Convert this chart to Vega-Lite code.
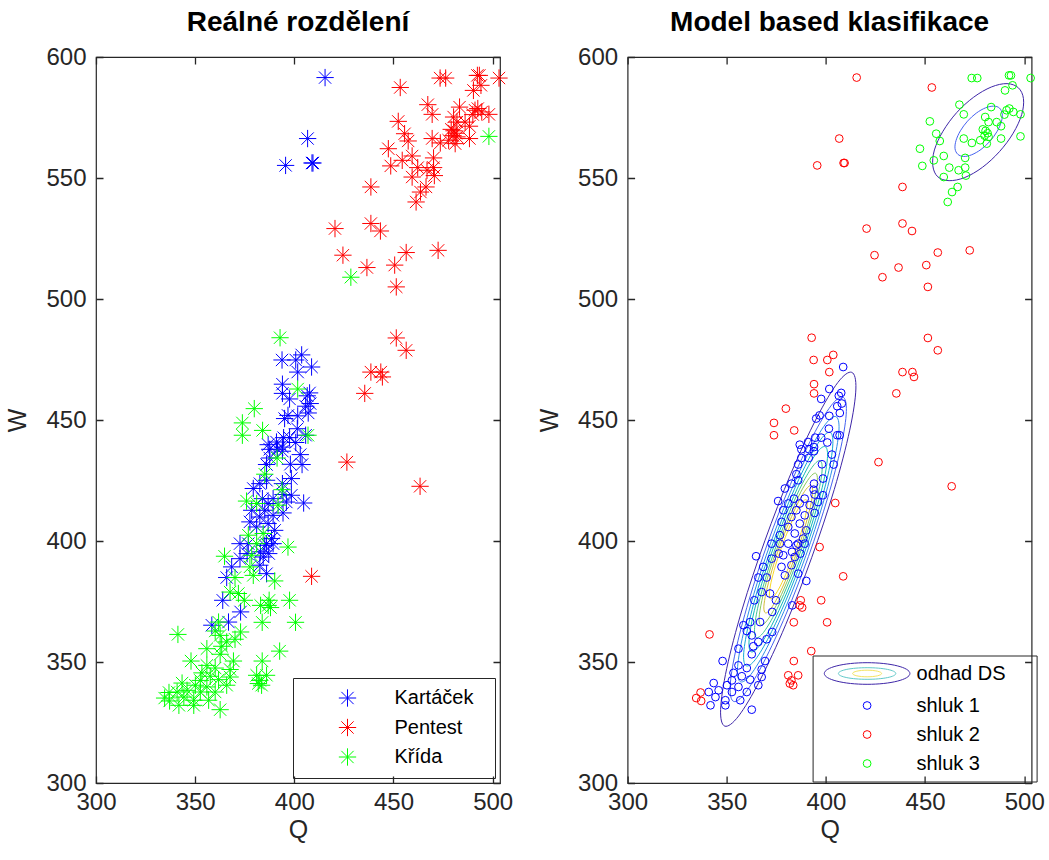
{
"$schema": "https://vega.github.io/schema/vega-lite/v6.json",
"background": "white",
"padding": {"left": 5, "top": 7, "right": 10, "bottom": 6},
"bounds": "flush",
"spacing": 127.6,
"config": {
  "font": "Liberation Sans",
  "view": {"stroke": "#262626", "strokeWidth": 1.2},
  "title": {"fontSize": 28, "fontWeight": "bold", "font": "Liberation Sans", "color": "#000000", "anchor": "middle", "baseline": "alphabetic", "offset": 8.5},
  "axis": {"domain": false, "offset": 0, "ticks": false, "tickSize": 0, "grid": true, "gridColor": "#262626", "gridWidth": 1.3, "gridOpacity": 1, "labelFontSize": 24, "labelColor": "#262626", "labelFont": "Liberation Sans", "titleFont": "Liberation Sans", "titleFontSize": 25, "titleFontWeight": "normal", "titleColor": "#262626", "labelFlush": false, "labelOverlap": false},
  "axisX": {"labelPadding": 7, "titlePadding": 3, "gridDash": [7, 712, 7, 100]},
  "axisY": {"labelPadding": 10, "titlePadding": 15, "gridDash": [7, 390, 7, 100]}
},
"datasets": {
"dummy": [{"Q": 250, "W": 250, "lg": "odhad DS", "lh": "odhad DS2"}],
"pts": [
{"Q":415.5,"W":591.5,"t":"Kartáček","c":"shluk 2"},
{"Q":406.7,"W":566.3,"t":"Kartáček","c":"shluk 2"},
{"Q":395.6,"W":555.2,"t":"Kartáček","c":"shluk 2"},
{"Q":408.9,"W":556.2,"t":"Kartáček","c":"shluk 2"},
{"Q":409.4,"W":556.2,"t":"Kartáček","c":"shluk 2"},
{"Q":403.7,"W":476.9,"t":"Kartáček","c":"shluk 2"},
{"Q":400.7,"W":474.8,"t":"Kartáček","c":"shluk 2"},
{"Q":393.8,"W":474.8,"t":"Kartáček","c":"shluk 2"},
{"Q":401.7,"W":469.8,"t":"Kartáček","c":"shluk 2"},
{"Q":394.0,"W":464.8,"t":"Kartáček","c":"shluk 2"},
{"Q":394.0,"W":461.0,"t":"Kartáček","c":"shluk 2"},
{"Q":404.7,"W":415.7,"t":"Kartáček","c":"shluk 2"},
{"Q":408.7,"W":471.9,"t":"Kartáček","c":"shluk 1"},
{"Q":407.7,"W":461.2,"t":"Kartáček","c":"shluk 1"},
{"Q":406.5,"W":460.0,"t":"Kartáček","c":"shluk 1"},
{"Q":397.6,"W":458.7,"t":"Kartáček","c":"shluk 1"},
{"Q":408.0,"W":456.8,"t":"Kartáček","c":"shluk 1"},
{"Q":405.7,"W":455.7,"t":"Kartáček","c":"shluk 1"},
{"Q":407.0,"W":452.9,"t":"Kartáček","c":"shluk 1"},
{"Q":396.8,"W":451.9,"t":"Kartáček","c":"shluk 1"},
{"Q":395.1,"W":450.6,"t":"Kartáček","c":"shluk 1"},
{"Q":401.7,"W":451.7,"t":"Kartáček","c":"shluk 1"},
{"Q":401.5,"W":446.4,"t":"Kartáček","c":"shluk 1"},
{"Q":405.7,"W":443.7,"t":"Kartáček","c":"shluk 1"},
{"Q":394.6,"W":442.7,"t":"Kartáček","c":"shluk 1"},
{"Q":397.6,"W":442.7,"t":"Kartáček","c":"shluk 1"},
{"Q":400.7,"W":440.7,"t":"Kartáček","c":"shluk 1"},
{"Q":391.0,"W":440.9,"t":"Kartáček","c":"shluk 1"},
{"Q":386.8,"W":439.8,"t":"Kartáček","c":"shluk 1"},
{"Q":394.0,"W":438.8,"t":"Kartáček","c":"shluk 1"},
{"Q":391.5,"W":437.9,"t":"Kartáček","c":"shluk 1"},
{"Q":387.6,"W":437.9,"t":"Kartáček","c":"shluk 1"},
{"Q":394.0,"W":437.1,"t":"Kartáček","c":"shluk 1"},
{"Q":403.0,"W":435.7,"t":"Kartáček","c":"shluk 1"},
{"Q":387.6,"W":434.3,"t":"Kartáček","c":"shluk 1"},
{"Q":403.9,"W":431.6,"t":"Kartáček","c":"shluk 1"},
{"Q":386.0,"W":431.6,"t":"Kartáček","c":"shluk 1"},
{"Q":398.0,"W":431.7,"t":"Kartáček","c":"shluk 1"},
{"Q":398.5,"W":425.8,"t":"Kartáček","c":"shluk 1"},
{"Q":386.0,"W":425.1,"t":"Kartáček","c":"shluk 1"},
{"Q":382.6,"W":423.7,"t":"Kartáček","c":"shluk 1"},
{"Q":394.0,"W":423.7,"t":"Kartáček","c":"shluk 1"},
{"Q":379.3,"W":421.7,"t":"Kartáček","c":"shluk 1"},
{"Q":398.5,"W":418.9,"t":"Kartáček","c":"shluk 1"},
{"Q":394.3,"W":419.2,"t":"Kartáček","c":"shluk 1"},
{"Q":383.9,"W":417.5,"t":"Kartáček","c":"shluk 1"},
{"Q":389.3,"W":417.5,"t":"Kartáček","c":"shluk 1"},
{"Q":396.0,"W":416.1,"t":"Kartáček","c":"shluk 1"},
{"Q":386.8,"W":415.5,"t":"Kartáček","c":"shluk 1"},
{"Q":385.1,"W":412.7,"t":"Kartáček","c":"shluk 1"},
{"Q":378.5,"W":412.7,"t":"Kartáček","c":"shluk 1"},
{"Q":382.6,"W":409.9,"t":"Kartáček","c":"shluk 1"},
{"Q":389.3,"W":410.6,"t":"Kartáček","c":"shluk 1"},
{"Q":394.3,"W":411.6,"t":"Kartáček","c":"shluk 1"},
{"Q":377.6,"W":407.9,"t":"Kartáček","c":"shluk 1"},
{"Q":386.8,"W":407.2,"t":"Kartáček","c":"shluk 1"},
{"Q":381.0,"W":405.8,"t":"Kartáček","c":"shluk 1"},
{"Q":390.1,"W":404.4,"t":"Kartáček","c":"shluk 1"},
{"Q":388.5,"W":401.0,"t":"Kartáček","c":"shluk 1"},
{"Q":372.6,"W":398.9,"t":"Kartáček","c":"shluk 1"},
{"Q":385.1,"W":398.2,"t":"Kartáček","c":"shluk 1"},
{"Q":376.8,"W":398.9,"t":"Kartáček","c":"shluk 1"},
{"Q":386.0,"W":398.9,"t":"Kartáček","c":"shluk 1"},
{"Q":389.3,"W":398.9,"t":"Kartáček","c":"shluk 1"},
{"Q":372.6,"W":392.7,"t":"Kartáček","c":"shluk 1"},
{"Q":384.3,"W":393.4,"t":"Kartáček","c":"shluk 1"},
{"Q":368.4,"W":389.3,"t":"Kartáček","c":"shluk 1"},
{"Q":382.6,"W":390.0,"t":"Kartáček","c":"shluk 1"},
{"Q":365.9,"W":384.9,"t":"Kartáček","c":"shluk 1"},
{"Q":386.0,"W":386.5,"t":"Kartáček","c":"shluk 1"},
{"Q":363.9,"W":375.5,"t":"Kartáček","c":"shluk 1"},
{"Q":372.9,"W":370.7,"t":"Kartáček","c":"shluk 1"},
{"Q":358.4,"W":365.2,"t":"Kartáček","c":"shluk 1"},
{"Q":366.8,"W":366.5,"t":"Kartáček","c":"shluk 1"},
{"Q":376.2,"W":394.8,"t":"Kartáček","c":"shluk 1"},
{"Q":382.9,"W":395.5,"t":"Kartáček","c":"shluk 1"},
{"Q":387.1,"W":394.8,"t":"Kartáček","c":"shluk 1"},
{"Q":473.5,"W":591.3,"t":"Pentest","c":"shluk 3"},
{"Q":476.3,"W":591.3,"t":"Pentest","c":"shluk 3"},
{"Q":492.3,"W":592.4,"t":"Pentest","c":"shluk 3"},
{"Q":493.3,"W":592.4,"t":"Pentest","c":"shluk 3"},
{"Q":503.2,"W":591.3,"t":"Pentest","c":"shluk 3"},
{"Q":494.1,"W":588.3,"t":"Pentest","c":"shluk 3"},
{"Q":490.3,"W":586.2,"t":"Pentest","c":"shluk 3"},
{"Q":467.3,"W":580.3,"t":"Pentest","c":"shluk 3"},
{"Q":483.3,"W":579.3,"t":"Pentest","c":"shluk 3"},
{"Q":469.5,"W":576.3,"t":"Pentest","c":"shluk 3"},
{"Q":491.1,"W":578.0,"t":"Pentest","c":"shluk 3"},
{"Q":492.5,"W":578.7,"t":"Pentest","c":"shluk 3"},
{"Q":494.5,"W":577.3,"t":"Pentest","c":"shluk 3"},
{"Q":498.1,"W":576.3,"t":"Pentest","c":"shluk 3"},
{"Q":490.0,"W":576.2,"t":"Pentest","c":"shluk 3"},
{"Q":480.3,"W":575.2,"t":"Pentest","c":"shluk 3"},
{"Q":486.1,"W":573.1,"t":"Pentest","c":"shluk 3"},
{"Q":482.0,"W":573.1,"t":"Pentest","c":"shluk 3"},
{"Q":452.4,"W":573.4,"t":"Pentest","c":"shluk 3"},
{"Q":488.3,"W":571.4,"t":"Pentest","c":"shluk 3"},
{"Q":479.1,"W":570.1,"t":"Pentest","c":"shluk 3"},
{"Q":480.5,"W":569.5,"t":"Pentest","c":"shluk 3"},
{"Q":481.5,"W":568.5,"t":"Pentest","c":"shluk 3"},
{"Q":480.0,"W":567.5,"t":"Pentest","c":"shluk 3"},
{"Q":482.0,"W":567.0,"t":"Pentest","c":"shluk 3"},
{"Q":477.8,"W":565.6,"t":"Pentest","c":"shluk 3"},
{"Q":481.1,"W":564.2,"t":"Pentest","c":"shluk 3"},
{"Q":488.3,"W":566.3,"t":"Pentest","c":"shluk 3"},
{"Q":469.5,"W":566.3,"t":"Pentest","c":"shluk 3"},
{"Q":473.6,"W":564.5,"t":"Pentest","c":"shluk 3"},
{"Q":455.6,"W":568.3,"t":"Pentest","c":"shluk 3"},
{"Q":457.4,"W":565.3,"t":"Pentest","c":"shluk 3"},
{"Q":447.4,"W":562.1,"t":"Pentest","c":"shluk 3"},
{"Q":454.4,"W":557.3,"t":"Pentest","c":"shluk 3"},
{"Q":459.4,"W":559.1,"t":"Pentest","c":"shluk 3"},
{"Q":470.2,"W":558.3,"t":"Pentest","c":"shluk 3"},
{"Q":448.6,"W":555.0,"t":"Pentest","c":"shluk 3"},
{"Q":462.2,"W":554.3,"t":"Pentest","c":"shluk 3"},
{"Q":466.9,"W":553.2,"t":"Pentest","c":"shluk 3"},
{"Q":470.2,"W":554.3,"t":"Pentest","c":"shluk 3"},
{"Q":470.6,"W":551.0,"t":"Pentest","c":"shluk 3"},
{"Q":459.4,"W":550.4,"t":"Pentest","c":"shluk 3"},
{"Q":466.4,"W":546.3,"t":"Pentest","c":"shluk 3"},
{"Q":463.6,"W":544.2,"t":"Pentest","c":"shluk 3"},
{"Q":461.4,"W":540.1,"t":"Pentest","c":"shluk 3"},
{"Q":453.4,"W":587.4,"t":"Pentest","c":"shluk 2"},
{"Q":438.6,"W":546.3,"t":"Pentest","c":"shluk 2"},
{"Q":420.5,"W":529.1,"t":"Pentest","c":"shluk 2"},
{"Q":438.6,"W":531.2,"t":"Pentest","c":"shluk 2"},
{"Q":443.4,"W":528.1,"t":"Pentest","c":"shluk 2"},
{"Q":424.5,"W":518.1,"t":"Pentest","c":"shluk 2"},
{"Q":456.4,"W":519.2,"t":"Pentest","c":"shluk 2"},
{"Q":472.5,"W":520.1,"t":"Pentest","c":"shluk 2"},
{"Q":436.6,"W":513.0,"t":"Pentest","c":"shluk 2"},
{"Q":450.6,"W":514.0,"t":"Pentest","c":"shluk 2"},
{"Q":451.4,"W":505.0,"t":"Pentest","c":"shluk 2"},
{"Q":451.4,"W":483.9,"t":"Pentest","c":"shluk 2"},
{"Q":456.4,"W":478.8,"t":"Pentest","c":"shluk 2"},
{"Q":438.6,"W":469.8,"t":"Pentest","c":"shluk 2"},
{"Q":443.6,"W":469.8,"t":"Pentest","c":"shluk 2"},
{"Q":444.4,"W":467.8,"t":"Pentest","c":"shluk 2"},
{"Q":435.5,"W":461.0,"t":"Pentest","c":"shluk 2"},
{"Q":426.5,"W":432.6,"t":"Pentest","c":"shluk 2"},
{"Q":463.4,"W":422.6,"t":"Pentest","c":"shluk 2"},
{"Q":408.7,"W":385.4,"t":"Pentest","c":"shluk 2"},
{"Q":498.1,"W":567.2,"t":"Křída","c":"shluk 3"},
{"Q":428.5,"W":509.0,"t":"Křída","c":"shluk 2"},
{"Q":392.8,"W":484.0,"t":"Křída","c":"shluk 2"},
{"Q":379.8,"W":454.7,"t":"Křída","c":"shluk 2"},
{"Q":373.8,"W":448.8,"t":"Křída","c":"shluk 2"},
{"Q":384.0,"W":445.7,"t":"Křída","c":"shluk 2"},
{"Q":373.8,"W":443.7,"t":"Křída","c":"shluk 2"},
{"Q":396.8,"W":397.5,"t":"Křída","c":"shluk 2"},
{"Q":397.6,"W":375.5,"t":"Křída","c":"shluk 2"},
{"Q":387.3,"W":375.5,"t":"Křída","c":"shluk 2"},
{"Q":386.8,"W":373.4,"t":"Křída","c":"shluk 2"},
{"Q":388.0,"W":372.5,"t":"Křída","c":"shluk 2"},
{"Q":400.6,"W":366.4,"t":"Křída","c":"shluk 2"},
{"Q":383.8,"W":366.4,"t":"Křída","c":"shluk 2"},
{"Q":392.6,"W":354.5,"t":"Křída","c":"shluk 2"},
{"Q":383.8,"W":350.4,"t":"Křída","c":"shluk 2"},
{"Q":381.0,"W":344.5,"t":"Křída","c":"shluk 2"},
{"Q":386.0,"W":344.5,"t":"Křída","c":"shluk 2"},
{"Q":382.6,"W":342.4,"t":"Křída","c":"shluk 2"},
{"Q":383.5,"W":340.4,"t":"Křída","c":"shluk 2"},
{"Q":381.8,"W":341.1,"t":"Křída","c":"shluk 2"},
{"Q":341.3,"W":361.4,"t":"Křída","c":"shluk 2"},
{"Q":334.6,"W":335.1,"t":"Křída","c":"shluk 2"},
{"Q":336.8,"W":337.4,"t":"Křída","c":"shluk 2"},
{"Q":337.1,"W":333.9,"t":"Křída","c":"shluk 2"},
{"Q":401.7,"W":462.8,"t":"Křída","c":"shluk 1"},
{"Q":406.9,"W":443.7,"t":"Křída","c":"shluk 1"},
{"Q":391.3,"W":434.3,"t":"Křída","c":"shluk 1"},
{"Q":385.1,"W":427.6,"t":"Křída","c":"shluk 1"},
{"Q":393.8,"W":421.2,"t":"Křída","c":"shluk 1"},
{"Q":375.9,"W":416.5,"t":"Křída","c":"shluk 1"},
{"Q":381.0,"W":415.5,"t":"Křída","c":"shluk 1"},
{"Q":391.8,"W":414.8,"t":"Křída","c":"shluk 1"},
{"Q":384.3,"W":403.1,"t":"Křída","c":"shluk 1"},
{"Q":376.8,"W":402.4,"t":"Křída","c":"shluk 1"},
{"Q":381.0,"W":398.9,"t":"Křída","c":"shluk 1"},
{"Q":364.8,"W":393.7,"t":"Křída","c":"shluk 1"},
{"Q":378.5,"W":394.1,"t":"Křída","c":"shluk 1"},
{"Q":377.6,"W":389.3,"t":"Křída","c":"shluk 1"},
{"Q":370.1,"W":384.9,"t":"Křída","c":"shluk 1"},
{"Q":379.3,"W":385.8,"t":"Křída","c":"shluk 1"},
{"Q":390.1,"W":383.5,"t":"Křída","c":"shluk 1"},
{"Q":367.6,"W":378.9,"t":"Křída","c":"shluk 1"},
{"Q":371.8,"W":378.3,"t":"Křída","c":"shluk 1"},
{"Q":374.8,"W":375.5,"t":"Křída","c":"shluk 1"},
{"Q":383.0,"W":373.4,"t":"Křída","c":"shluk 1"},
{"Q":361.8,"W":366.5,"t":"Křída","c":"shluk 1"},
{"Q":360.1,"W":362.8,"t":"Křída","c":"shluk 1"},
{"Q":362.6,"W":361.0,"t":"Křída","c":"shluk 1"},
{"Q":372.9,"W":362.4,"t":"Křída","c":"shluk 1"},
{"Q":370.1,"W":359.4,"t":"Křída","c":"shluk 1"},
{"Q":365.9,"W":358.3,"t":"Křída","c":"shluk 1"},
{"Q":363.4,"W":356.5,"t":"Křída","c":"shluk 1"},
{"Q":355.9,"W":355.5,"t":"Křída","c":"shluk 1"},
{"Q":362.6,"W":353.2,"t":"Křída","c":"shluk 1"},
{"Q":369.3,"W":350.4,"t":"Křída","c":"shluk 1"},
{"Q":347.9,"W":350.4,"t":"Křída","c":"shluk 1"},
{"Q":355.9,"W":348.6,"t":"Křída","c":"shluk 1"},
{"Q":367.6,"W":346.9,"t":"Křída","c":"shluk 1"},
{"Q":360.1,"W":347.5,"t":"Křída","c":"shluk 1"},
{"Q":353.4,"W":345.5,"t":"Křída","c":"shluk 1"},
{"Q":367.6,"W":343.8,"t":"Křída","c":"shluk 1"},
{"Q":357.6,"W":344.1,"t":"Křída","c":"shluk 1"},
{"Q":352.6,"W":342.4,"t":"Křída","c":"shluk 1"},
{"Q":361.8,"W":342.7,"t":"Křída","c":"shluk 1"},
{"Q":343.4,"W":341.3,"t":"Křída","c":"shluk 1"},
{"Q":365.9,"W":340.4,"t":"Křída","c":"shluk 1"},
{"Q":350.1,"W":340.4,"t":"Křída","c":"shluk 1"},
{"Q":355.9,"W":339.7,"t":"Křída","c":"shluk 1"},
{"Q":345.9,"W":338.3,"t":"Křída","c":"shluk 1"},
{"Q":340.9,"W":337.6,"t":"Křída","c":"shluk 1"},
{"Q":352.6,"W":337.6,"t":"Křída","c":"shluk 1"},
{"Q":360.1,"W":337.6,"t":"Křída","c":"shluk 1"},
{"Q":344.3,"W":335.5,"t":"Křída","c":"shluk 1"},
{"Q":349.3,"W":334.2,"t":"Křída","c":"shluk 1"},
{"Q":356.8,"W":334.2,"t":"Křída","c":"shluk 1"},
{"Q":341.8,"W":332.1,"t":"Křída","c":"shluk 1"},
{"Q":349.3,"W":332.1,"t":"Křída","c":"shluk 1"},
{"Q":362.6,"W":330.3,"t":"Křída","c":"shluk 1"}
],
"cont": [
{"g":"a1","l":"L1","i":0,"Q":413.0,"W":469.7},{"g":"a1","l":"L1","i":1,"Q":415.1,"W":462.8},{"g":"a1","l":"L1","i":2,"Q":412.0,"W":445.8},{"g":"a1","l":"L1","i":3,"Q":404.2,"W":421.3},{"g":"a1","l":"L1","i":4,"Q":392.8,"W":393.1},{"g":"a1","l":"L1","i":5,"Q":379.7,"W":365.4},{"g":"a1","l":"L1","i":6,"Q":366.7,"W":342.4},{"g":"a1","l":"L1","i":7,"Q":356.0,"W":327.7},{"g":"a1","l":"L1","i":8,"Q":349.0,"W":323.5},{"g":"a1","l":"L1","i":9,"Q":346.9,"W":330.4},{"g":"a1","l":"L1","i":10,"Q":350.0,"W":347.4},{"g":"a1","l":"L1","i":11,"Q":357.8,"W":371.9},{"g":"a1","l":"L1","i":12,"Q":369.2,"W":400.1},{"g":"a1","l":"L1","i":13,"Q":382.3,"W":427.8},{"g":"a1","l":"L1","i":14,"Q":395.3,"W":450.8},{"g":"a1","l":"L1","i":15,"Q":406.0,"W":465.5},
{"g":"a2","l":"L2","i":0,"Q":408.5,"W":459.5},{"g":"a2","l":"L2","i":1,"Q":410.3,"W":453.5},{"g":"a2","l":"L2","i":2,"Q":407.6,"W":438.9},{"g":"a2","l":"L2","i":3,"Q":400.9,"W":417.9},{"g":"a2","l":"L2","i":4,"Q":391.2,"W":393.6},{"g":"a2","l":"L2","i":5,"Q":379.9,"W":369.8},{"g":"a2","l":"L2","i":6,"Q":368.7,"W":350.0},{"g":"a2","l":"L2","i":7,"Q":359.5,"W":337.4},{"g":"a2","l":"L2","i":8,"Q":353.5,"W":333.7},{"g":"a2","l":"L2","i":9,"Q":351.7,"W":339.7},{"g":"a2","l":"L2","i":10,"Q":354.4,"W":354.3},{"g":"a2","l":"L2","i":11,"Q":361.1,"W":375.3},{"g":"a2","l":"L2","i":12,"Q":370.8,"W":399.6},{"g":"a2","l":"L2","i":13,"Q":382.1,"W":423.4},{"g":"a2","l":"L2","i":14,"Q":393.3,"W":443.2},{"g":"a2","l":"L2","i":15,"Q":402.5,"W":455.8},
{"g":"a3","l":"L3","i":0,"Q":405.0,"W":451.4},{"g":"a3","l":"L3","i":1,"Q":406.6,"W":446.3},{"g":"a3","l":"L3","i":2,"Q":404.2,"W":433.5},{"g":"a3","l":"L3","i":3,"Q":398.4,"W":415.2},{"g":"a3","l":"L3","i":4,"Q":389.9,"W":394.0},{"g":"a3","l":"L3","i":5,"Q":380.0,"W":373.2},{"g":"a3","l":"L3","i":6,"Q":370.3,"W":356.0},{"g":"a3","l":"L3","i":7,"Q":362.2,"W":344.9},{"g":"a3","l":"L3","i":8,"Q":357.0,"W":341.8},{"g":"a3","l":"L3","i":9,"Q":355.4,"W":347.0},{"g":"a3","l":"L3","i":10,"Q":357.8,"W":359.7},{"g":"a3","l":"L3","i":11,"Q":363.6,"W":378.0},{"g":"a3","l":"L3","i":12,"Q":372.1,"W":399.2},{"g":"a3","l":"L3","i":13,"Q":382.0,"W":420.0},{"g":"a3","l":"L3","i":14,"Q":391.7,"W":437.2},{"g":"a3","l":"L3","i":15,"Q":399.8,"W":448.3},
{"g":"a4","l":"L4","i":0,"Q":402.1,"W":444.9},{"g":"a4","l":"L4","i":1,"Q":403.5,"W":440.3},{"g":"a4","l":"L4","i":2,"Q":401.5,"W":429.1},{"g":"a4","l":"L4","i":3,"Q":396.3,"W":412.9},{"g":"a4","l":"L4","i":4,"Q":388.8,"W":394.3},{"g":"a4","l":"L4","i":5,"Q":380.1,"W":376.0},{"g":"a4","l":"L4","i":6,"Q":371.6,"W":360.9},{"g":"a4","l":"L4","i":7,"Q":364.5,"W":351.1},{"g":"a4","l":"L4","i":8,"Q":359.9,"W":348.4},{"g":"a4","l":"L4","i":9,"Q":358.5,"W":352.9},{"g":"a4","l":"L4","i":10,"Q":360.6,"W":364.1},{"g":"a4","l":"L4","i":11,"Q":365.7,"W":380.3},{"g":"a4","l":"L4","i":12,"Q":373.2,"W":398.9},{"g":"a4","l":"L4","i":13,"Q":381.9,"W":417.2},{"g":"a4","l":"L4","i":14,"Q":390.4,"W":432.4},{"g":"a4","l":"L4","i":15,"Q":397.5,"W":442.1},
{"g":"a5","l":"L5","i":0,"Q":399.6,"W":439.0},{"g":"a5","l":"L5","i":1,"Q":400.8,"W":435.0},{"g":"a5","l":"L5","i":2,"Q":399.0,"W":425.2},{"g":"a5","l":"L5","i":3,"Q":394.4,"W":411.0},{"g":"a5","l":"L5","i":4,"Q":387.9,"W":394.6},{"g":"a5","l":"L5","i":5,"Q":380.2,"W":378.5},{"g":"a5","l":"L5","i":6,"Q":372.7,"W":365.2},{"g":"a5","l":"L5","i":7,"Q":366.5,"W":356.7},{"g":"a5","l":"L5","i":8,"Q":362.4,"W":354.2},{"g":"a5","l":"L5","i":9,"Q":361.2,"W":358.2},{"g":"a5","l":"L5","i":10,"Q":363.0,"W":368.1},{"g":"a5","l":"L5","i":11,"Q":367.6,"W":382.3},{"g":"a5","l":"L5","i":12,"Q":374.1,"W":398.6},{"g":"a5","l":"L5","i":13,"Q":381.8,"W":414.7},{"g":"a5","l":"L5","i":14,"Q":389.3,"W":428.0},{"g":"a5","l":"L5","i":15,"Q":395.5,"W":436.6},
{"g":"a6","l":"L6","i":0,"Q":397.0,"W":433.2},{"g":"a6","l":"L6","i":1,"Q":398.1,"W":429.7},{"g":"a6","l":"L6","i":2,"Q":396.5,"W":421.2},{"g":"a6","l":"L6","i":3,"Q":392.6,"W":409.0},{"g":"a6","l":"L6","i":4,"Q":386.9,"W":394.9},{"g":"a6","l":"L6","i":5,"Q":380.3,"W":381.0},{"g":"a6","l":"L6","i":6,"Q":373.9,"W":369.5},{"g":"a6","l":"L6","i":7,"Q":368.5,"W":362.2},{"g":"a6","l":"L6","i":8,"Q":365.0,"W":360.1},{"g":"a6","l":"L6","i":9,"Q":364.0,"W":363.5},{"g":"a6","l":"L6","i":10,"Q":365.5,"W":372.0},{"g":"a6","l":"L6","i":11,"Q":369.4,"W":384.2},{"g":"a6","l":"L6","i":12,"Q":375.1,"W":398.4},{"g":"a6","l":"L6","i":13,"Q":381.7,"W":412.2},{"g":"a6","l":"L6","i":14,"Q":388.1,"W":423.7},{"g":"a6","l":"L6","i":15,"Q":393.5,"W":431.0},
{"g":"a7","l":"L7","i":0,"Q":394.8,"W":428.0},{"g":"a7","l":"L7","i":1,"Q":395.7,"W":425.1},{"g":"a7","l":"L7","i":2,"Q":394.3,"W":417.8},{"g":"a7","l":"L7","i":3,"Q":391.0,"W":407.2},{"g":"a7","l":"L7","i":4,"Q":386.1,"W":395.1},{"g":"a7","l":"L7","i":5,"Q":380.4,"W":383.2},{"g":"a7","l":"L7","i":6,"Q":374.9,"W":373.3},{"g":"a7","l":"L7","i":7,"Q":370.2,"W":367.0},{"g":"a7","l":"L7","i":8,"Q":367.2,"W":365.2},{"g":"a7","l":"L7","i":9,"Q":366.3,"W":368.1},{"g":"a7","l":"L7","i":10,"Q":367.7,"W":375.4},{"g":"a7","l":"L7","i":11,"Q":371.0,"W":386.0},{"g":"a7","l":"L7","i":12,"Q":375.9,"W":398.1},{"g":"a7","l":"L7","i":13,"Q":381.6,"W":410.0},{"g":"a7","l":"L7","i":14,"Q":387.1,"W":419.9},{"g":"a7","l":"L7","i":15,"Q":391.8,"W":426.2},
{"g":"a8","l":"L8","i":0,"Q":392.5,"W":422.9},{"g":"a8","l":"L8","i":1,"Q":393.3,"W":420.4},{"g":"a8","l":"L8","i":2,"Q":392.2,"W":414.3},{"g":"a8","l":"L8","i":3,"Q":389.3,"W":405.5},{"g":"a8","l":"L8","i":4,"Q":385.3,"W":395.3},{"g":"a8","l":"L8","i":5,"Q":380.5,"W":385.4},{"g":"a8","l":"L8","i":6,"Q":375.9,"W":377.1},{"g":"a8","l":"L8","i":7,"Q":372.0,"W":371.8},{"g":"a8","l":"L8","i":8,"Q":369.5,"W":370.3},{"g":"a8","l":"L8","i":9,"Q":368.7,"W":372.8},{"g":"a8","l":"L8","i":10,"Q":369.9,"W":378.9},{"g":"a8","l":"L8","i":11,"Q":372.7,"W":387.7},{"g":"a8","l":"L8","i":12,"Q":376.7,"W":397.9},{"g":"a8","l":"L8","i":13,"Q":381.5,"W":407.8},{"g":"a8","l":"L8","i":14,"Q":386.1,"W":416.1},{"g":"a8","l":"L8","i":15,"Q":390.0,"W":421.4},
{"g":"a9","l":"L9","i":0,"Q":390.0,"W":417.1},{"g":"a9","l":"L9","i":1,"Q":390.6,"W":415.1},{"g":"a9","l":"L9","i":2,"Q":389.7,"W":410.4},{"g":"a9","l":"L9","i":3,"Q":387.5,"W":403.5},{"g":"a9","l":"L9","i":4,"Q":384.3,"W":395.6},{"g":"a9","l":"L9","i":5,"Q":380.6,"W":387.9},{"g":"a9","l":"L9","i":6,"Q":377.0,"W":381.4},{"g":"a9","l":"L9","i":7,"Q":374.0,"W":377.3},{"g":"a9","l":"L9","i":8,"Q":372.0,"W":376.1},{"g":"a9","l":"L9","i":9,"Q":371.5,"W":378.1},{"g":"a9","l":"L9","i":10,"Q":372.3,"W":382.8},{"g":"a9","l":"L9","i":11,"Q":374.5,"W":389.7},{"g":"a9","l":"L9","i":12,"Q":377.7,"W":397.6},{"g":"a9","l":"L9","i":13,"Q":381.4,"W":405.3},{"g":"a9","l":"L9","i":14,"Q":385.0,"W":411.8},{"g":"a9","l":"L9","i":15,"Q":388.0,"W":415.9},
{"g":"b1","l":"L1","i":0,"Q":497.0,"W":587.3},{"g":"b1","l":"L1","i":1,"Q":499.6,"W":582.8},{"g":"b1","l":"L1","i":2,"Q":498.7,"W":576.2},{"g":"b1","l":"L1","i":3,"Q":494.4,"W":568.5},{"g":"b1","l":"L1","i":4,"Q":487.5,"W":560.9},{"g":"b1","l":"L1","i":5,"Q":478.9,"W":554.4},{"g":"b1","l":"L1","i":6,"Q":470.0,"W":550.2},{"g":"b1","l":"L1","i":7,"Q":462.1,"W":548.9},{"g":"b1","l":"L1","i":8,"Q":456.4,"W":550.5},{"g":"b1","l":"L1","i":9,"Q":453.9,"W":555.0},{"g":"b1","l":"L1","i":10,"Q":454.7,"W":561.6},{"g":"b1","l":"L1","i":11,"Q":459.0,"W":569.3},{"g":"b1","l":"L1","i":12,"Q":465.9,"W":577.0},{"g":"b1","l":"L1","i":13,"Q":474.5,"W":583.4},{"g":"b1","l":"L1","i":14,"Q":483.4,"W":587.6},{"g":"b1","l":"L1","i":15,"Q":491.3,"W":589.0},
{"g":"b2","l":"L2","i":0,"Q":487.5,"W":578.9},{"g":"b2","l":"L2","i":1,"Q":488.9,"W":576.5},{"g":"b2","l":"L2","i":2,"Q":488.4,"W":573.1},{"g":"b2","l":"L2","i":3,"Q":486.2,"W":569.1},{"g":"b2","l":"L2","i":4,"Q":482.6,"W":565.1},{"g":"b2","l":"L2","i":5,"Q":478.2,"W":561.8},{"g":"b2","l":"L2","i":6,"Q":473.5,"W":559.6},{"g":"b2","l":"L2","i":7,"Q":469.4,"W":558.9},{"g":"b2","l":"L2","i":8,"Q":466.5,"W":559.8},{"g":"b2","l":"L2","i":9,"Q":465.1,"W":562.1},{"g":"b2","l":"L2","i":10,"Q":465.6,"W":565.5},{"g":"b2","l":"L2","i":11,"Q":467.8,"W":569.5},{"g":"b2","l":"L2","i":12,"Q":471.4,"W":573.5},{"g":"b2","l":"L2","i":13,"Q":475.8,"W":576.8},{"g":"b2","l":"L2","i":14,"Q":480.5,"W":579.0},{"g":"b2","l":"L2","i":15,"Q":484.6,"W":579.7}
]
},
"hconcat": [
{
  "width": 404, "height": 726,
  "title": {"text": "Reálné rozdělení"},
  "data": {"name": "pts"},
  "mark": {"type": "point", "filled": false, "strokeWidth": 1, "size": 300, "opacity": 1},
  "encoding": {
    "x": {"field": "Q", "type": "quantitative", "scale": {"domain": [300, 503.7], "nice": false, "zero": false}, "axis": {"values": [300, 350, 400, 450, 500], "title": "Q"}},
    "y": {"field": "W", "type": "quantitative", "scale": {"domain": [300, 600], "nice": false, "zero": false}, "axis": {"values": [300, 350, 400, 450, 500, 550, 600], "title": "W"}},
    "stroke": {"field": "t", "type": "nominal", "scale": {"domain": ["Kartáček", "Pentest", "Křída"], "range": ["#0000ff", "#ff0000", "#00ff00"]},
      "legend": {"title": null, "orient": "none", "legendX": 197, "legendY": 621, "padding": 10, "symbolOffset": 34.5, "labelOffset": 37, "rowPadding": 7.5, "strokeColor": "#262626", "labelFontSize": 20, "labelFont": "Liberation Sans", "labelColor": "#000000", "symbolSize": 300, "symbolStrokeWidth": 1, "labelExpr": "datum.label + '\u00a0\u00a0\u200b'"}},
    "shape": {"field": "t", "type": "nominal", "scale": {"domain": ["Kartáček", "Pentest", "Křída"], "range": ["M-1,0L1,0M0,-1L0,1M-0.71,-0.71L0.71,0.71M-0.71,0.71L0.71,-0.71", "M-1,0L1,0M0,-1L0,1M-0.71,-0.71L0.71,0.71M-0.71,0.71L0.71,-0.71", "M-1,0L1,0M0,-1L0,1M-0.71,-0.71L0.71,0.71M-0.71,0.71L0.71,-0.71"]},
      "legend": {"title": null, "orient": "none", "legendX": 197, "legendY": 621, "padding": 10, "symbolOffset": 34.5, "labelOffset": 37, "rowPadding": 7.5, "strokeColor": "#262626", "labelFontSize": 20, "labelFont": "Liberation Sans", "labelColor": "#000000", "symbolSize": 300, "symbolStrokeWidth": 1, "labelExpr": "datum.label + '\u00a0\u00a0\u200b'"}}
  }
},
{
  "width": 404, "height": 726,
  "title": {"text": "Model based klasifikace"},
  "layer": [
    {
      "data": {"name": "cont"},
      "mark": {"type": "line", "interpolate": "cardinal-closed", "strokeWidth": 1},
      "encoding": {
        "x": {"field": "Q", "type": "quantitative", "scale": {"domain": [300, 503.7], "nice": false, "zero": false}, "axis": {"values": [300, 350, 400, 450, 500], "title": "Q"}},
        "y": {"field": "W", "type": "quantitative", "scale": {"domain": [300, 600], "nice": false, "zero": false}, "axis": {"values": [300, 350, 400, 450, 500, 550, 600], "title": "W"}},
        "color": {"field": "l", "type": "nominal", "scale": {"domain": ["L1","L2","L3","L4","L5","L6","L7","L8","L9"], "range": ["#3e26a8","#4662f0","#2d8ee8","#14a7d6","#0eb9b9","#3ec494","#8ac85e","#d4bb39","#f8d827"]}, "legend": null},
        "detail": {"field": "g", "type": "nominal"},
        "order": {"field": "i", "type": "quantitative"}
      }
    },
    {
      "data": {"name": "pts"},
      "mark": {"type": "point", "filled": false, "strokeWidth": 1, "size": 60, "opacity": 1},
      "encoding": {
        "x": {"field": "Q", "type": "quantitative", "axis": null},
        "y": {"field": "W", "type": "quantitative", "axis": null},
        "order": {"field": "c", "type": "ordinal"},
        "stroke": {"field": "c", "type": "nominal", "scale": {"domain": ["odhad DS", "shluk 1", "shluk 2", "shluk 3"], "range": ["#3e26a8", "#0000ff", "#ff0000", "#00ff00"]},
          "legend": {"title": null, "orient": "none", "legendX": 185, "legendY": 598.5, "padding": 8, "symbolOffset": 36.5, "labelOffset": 39.5, "rowPadding": 9, "strokeColor": "#262626", "labelFontSize": 20, "labelFont": "Liberation Sans", "labelColor": "#000000", "symbolSize": 60, "symbolStrokeWidth": 1, "labelExpr": "datum.label + '\u00a0\u00a0\u00a0\u00a0\u200b'"}},
        "shape": {"field": "c", "type": "nominal", "scale": {"domain": ["odhad DS", "shluk 1", "shluk 2", "shluk 3"], "range": ["M11.05,0C11.05,1.54,6.1,2.79,0,2.79C-6.1,2.79,-11.05,1.54,-11.05,0C-11.05,-1.54,-6.1,-2.79,0,-2.79C6.1,-2.79,11.05,-1.54,11.05,0Z", "circle", "circle", "circle"]},
          "legend": {"title": null, "orient": "none", "legendX": 185, "legendY": 598.5, "padding": 8, "symbolOffset": 36.5, "labelOffset": 39.5, "rowPadding": 9, "strokeColor": "#262626", "labelFontSize": 20, "labelFont": "Liberation Sans", "labelColor": "#000000", "symbolSize": 60, "symbolStrokeWidth": 1, "labelExpr": "datum.label + '\u00a0\u00a0\u00a0\u00a0\u200b'"}}
      }
    },
    {
      "data": {"name": "dummy"},
      "mark": {"type": "point", "filled": false, "color": "#1fb3b3", "clip": true},
      "encoding": {
        "x": {"field": "Q", "type": "quantitative", "axis": null},
        "y": {"field": "W", "type": "quantitative", "axis": null},
        "strokeWidth": {"field": "lg", "type": "ordinal", "scale": {"domain": ["odhad DS"], "range": [1, 1]},
          "legend": {"title": null, "orient": "none", "legendX": 185, "legendY": 598.5, "padding": 8, "symbolOffset": 36.5, "labelOffset": 39.5, "rowPadding": 9, "labelFontSize": 20, "labelFont": "Liberation Sans", "labelExpr": "''", "symbolSize": 60, "symbolStrokeColor": "#1fb3b3", "symbolFillColor": "transparent",
            "symbolType": "M-11.05,-2.79M11.05,2.79M7.41,0C7.41,0.83,4.09,1.5,0,1.5C-4.09,1.5,-7.41,0.83,-7.41,0C-7.41,-0.83,-4.09,-1.5,0,-1.5C4.09,-1.5,7.41,-0.83,7.41,0Z"}}
      }
    },
    {
      "data": {"name": "dummy"},
      "mark": {"type": "point", "filled": false, "color": "#f0d820", "clip": true},
      "encoding": {
        "x": {"field": "Q", "type": "quantitative", "axis": null},
        "y": {"field": "W", "type": "quantitative", "axis": null},
        "size": {"field": "lh", "type": "ordinal", "scale": {"domain": ["odhad DS2"], "range": [60, 60]},
          "legend": {"title": null, "orient": "none", "legendX": 185, "legendY": 598.5, "padding": 8, "symbolOffset": 36.5, "labelOffset": 39.5, "rowPadding": 9, "labelFontSize": 20, "labelFont": "Liberation Sans", "labelExpr": "''", "symbolStrokeColor": "#f0d820", "symbolFillColor": "transparent", "symbolStrokeWidth": 1,
            "symbolType": "M-11.05,-2.79M11.05,2.79M3.74,0C3.74,0.47,2.07,0.85,0,0.85C-2.07,0.85,-3.74,0.47,-3.74,0C-3.74,-0.47,-2.07,-0.85,0,-0.85C2.07,-0.85,3.74,-0.47,3.74,0Z"}}
      }
    }
  ],
  "resolve": {"axis": {"x": "independent", "y": "independent"}}
}
],
"resolve": {"scale": {"x": "independent", "y": "independent", "stroke": "independent", "shape": "independent", "color": "independent", "strokeWidth": "independent", "size": "independent"}, "legend": {"stroke": "independent", "shape": "independent", "strokeWidth": "independent", "size": "independent"}}
}
